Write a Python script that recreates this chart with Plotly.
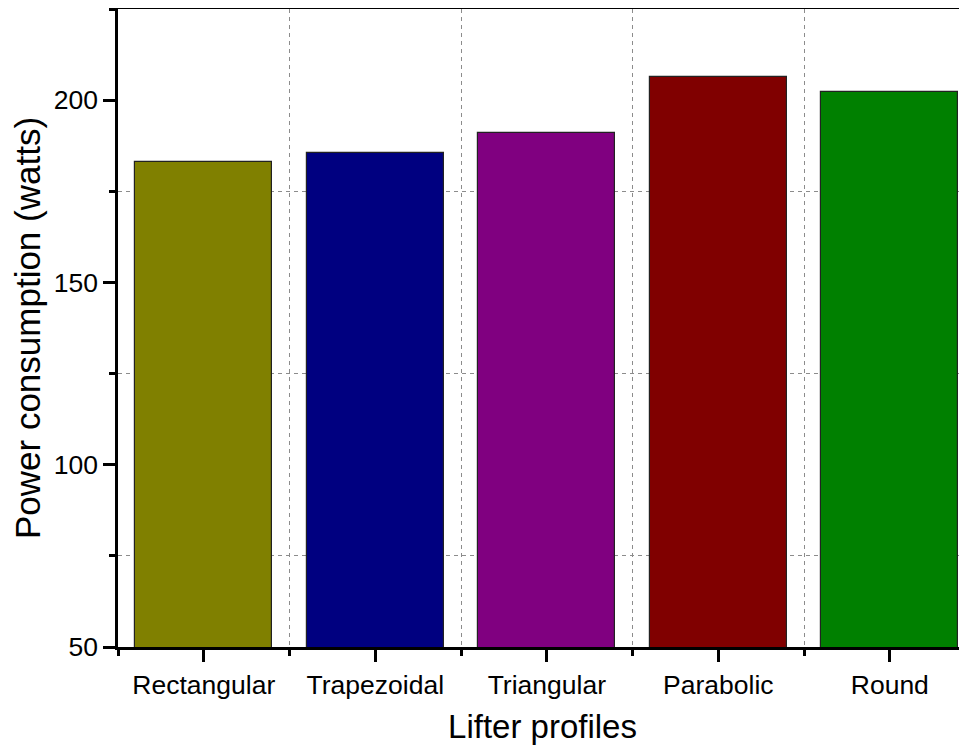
import plotly.graph_objects as go

categories = ["Rectangular", "Trapezoidal", "Triangular", "Parabolic", "Round"]
power = [183.0, 185.6, 191.1, 206.4, 202.2]
colors = ["#808000", "#000080", "#800080", "#800000", "#008000"]
y_ticks = [50, 100, 150, 200]

xpos = list(range(len(categories)))

fig = go.Figure(go.Bar(
    x=xpos, y=power, width=0.8,
    marker=dict(color=colors, line=dict(color="#222222", width=1.2)),
    showlegend=False,
))

font = "Liberation Sans, Arial, sans-serif"
# page body has an 8px margin; the figure is sized to fit the window
fig.update_layout(
    width=959, height=739,
    margin=dict(l=110, r=0, t=1, b=100),
    paper_bgcolor="white", plot_bgcolor="white",
    font=dict(family=font, color="black"),
    bargap=0,
)
fig.update_xaxes(
    automargin=False,
    range=[-0.5, 4.45],
    tickmode="array", tickvals=xpos, ticktext=categories,
    tickfont=dict(size=26.5, family=font, color="black"),
    ticks="outside", ticklen=12, tickwidth=2.5, tickcolor="black",
    showline=True, linecolor="black", linewidth=2.5, mirror=True,
    showgrid=False, zeroline=False,
    minor=dict(tickvals=[-0.5, 0.5, 1.5, 2.5, 3.5], ticks="outside", ticklen=6,
               tickwidth=2.5, tickcolor="black",
               showgrid=True, gridcolor="#8c8c8c", griddash="4px,4px", gridwidth=1.3),
    title=dict(text="Lifter profiles", font=dict(size=33, family=font, color="black"),
               standoff=17),
)
fig.update_yaxes(
    automargin=False,
    range=[50, 225],
    tickmode="array", tickvals=y_ticks,
    tickfont=dict(size=26.5, family=font, color="black"),
    ticks="outside", ticklen=12, tickwidth=2.5, tickcolor="black",
    showline=True, linecolor="black", linewidth=2.5, mirror=False,
    showgrid=False, zeroline=False,
    minor=dict(tickvals=[75, 125, 175, 225], ticks="outside", ticklen=6,
               tickwidth=2.5, tickcolor="black",
               showgrid=True, gridcolor="#8c8c8c", griddash="4px,4px", gridwidth=1.3),
    title=dict(text="Power consumption (watts)", font=dict(size=35, family=font, color="black"),
               standoff=10),
)

fig.write_html("out.html")
